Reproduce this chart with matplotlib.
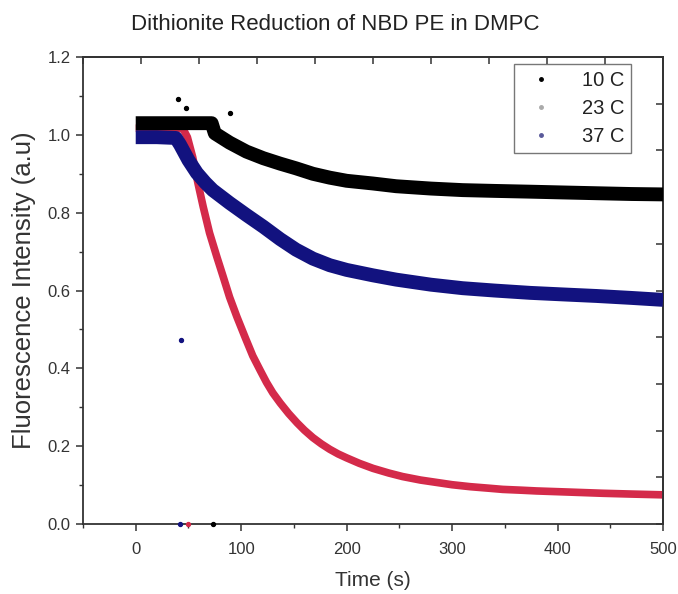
import matplotlib
matplotlib.use("Agg")
import matplotlib.pyplot as plt
from matplotlib.lines import Line2D

plt.rcParams['font.family'] = ['Liberation Sans', 'DejaVu Sans']

# ---- data ----
t_10 = [0, 20, 40, 60, 72, 75, 89, 105, 121, 137, 152, 168, 184, 200, 225, 247,
        280, 310, 340, 374, 405, 437, 470, 500]
v_10 = [1.030, 1.030, 1.030, 1.030, 1.030, 1.004, 0.980, 0.957, 0.940, 0.926, 0.914,
        0.900, 0.890, 0.882, 0.875, 0.868, 0.862, 0.858, 0.856, 0.854, 0.852, 0.850,
        0.848, 0.847]

t_23 = [0, 20, 40, 45, 49, 54, 59, 64, 70, 77, 83, 89, 96, 104, 111, 118, 124, 130,
        137, 145, 153, 160, 168, 176, 184, 192, 200, 212, 225, 240, 253, 270, 285, 300,
        317, 335, 348, 365, 380, 412, 443, 470, 500]
v_23 = [1.017, 1.017, 1.017, 1.015, 0.994, 0.943, 0.876, 0.815, 0.748, 0.686, 0.635,
        0.583, 0.532, 0.478, 0.432, 0.395, 0.364, 0.337, 0.311, 0.284, 0.260, 0.241,
        0.222, 0.206, 0.192, 0.180, 0.170, 0.156, 0.143, 0.131, 0.122, 0.113, 0.107,
        0.101, 0.096, 0.092, 0.089, 0.087, 0.085, 0.082, 0.079, 0.077, 0.075]

t_37 = [0, 20, 38, 42, 50, 58, 66, 73, 89, 105, 121, 137, 152, 168, 184, 200, 225,
        247, 280, 310, 340, 374, 405, 437, 470, 500]
v_37 = [0.994, 0.994, 0.992, 0.975, 0.935, 0.902, 0.877, 0.858, 0.825, 0.794, 0.764,
        0.732, 0.705, 0.682, 0.665, 0.653, 0.639, 0.628, 0.615, 0.606, 0.600, 0.594,
        0.590, 0.586, 0.581, 0.576]

# stray points
out_t_10 = [40, 48, 89, 73]
out_v_10 = [1.092, 1.069, 1.056, 0.0]
out_t_23 = [50]
out_v_23 = [0.0]
out_t_37 = [43, 42]
out_v_37 = [0.473, 0.0]

labels = ['10 C', '23 C', '37 C']
title = 'Dithionite Reduction of NBD PE in DMPC'

c_black = '#000000'
c_red = '#d42a4a'
c_blue = '#12127f'

fig = plt.figure(figsize=(6.78, 5.94), dpi=100)
ax = fig.add_axes([0.1224, 0.1178, 0.9779 - 0.1224, 0.904 - 0.1178])

ax.plot(t_23, v_23, color=c_red, lw=5.5, solid_capstyle='butt', solid_joinstyle='round', zorder=2)
ax.plot(t_37, v_37, color=c_blue, lw=10, solid_capstyle='butt', solid_joinstyle='round', zorder=3)
ax.plot(t_10, v_10, color=c_black, lw=10, solid_capstyle='butt', solid_joinstyle='round', zorder=4)

ax.scatter(out_t_10, out_v_10, s=8, color=c_black, zorder=5, clip_on=False)
ax.scatter(out_t_23, out_v_23, s=8, color=c_red, zorder=5, clip_on=False)
ax.scatter(out_t_37, out_v_37, s=8, color=c_blue, zorder=5, clip_on=False)

ax.set_xlim(-50, 500)
ax.set_ylim(0, 1.2)
ax.set_xticks([0, 100, 200, 300, 400, 500])
ax.set_xticks([-50, 50, 150, 250, 350, 450], minor=True)
ax.set_yticks([0.0, 0.2, 0.4, 0.6, 0.8, 1.0, 1.2])
ax.set_yticklabels(['0.0', '0.2', '0.4', '0.6', '0.8', '1.0', '1.2'])
ax.set_yticks([0.1, 0.3, 0.5, 0.7, 0.9, 1.1], minor=True)
ax.tick_params(which='major', direction='out', length=5, width=1.1, colors='#333333',
               labelsize=12, labelcolor='#333333', top=False, right=False)
ax.tick_params(which='minor', direction='out', length=3, width=1.0, colors='#333333',
               top=False, right=False)
ax.tick_params(axis='x', pad=8)
ax.tick_params(axis='y', pad=4)

for s in ax.spines.values():
    s.set_color('#333333')
    s.set_linewidth(1.3)

sx = ax.secondary_xaxis('top')
sx.set_xticks([-50 + 55 * k for k in range(11)])
sx.set_xticklabels([])
sx.tick_params(direction='in', length=5, width=1.1, colors='#333333')
sx.spines['top'].set_color('#333333')
sx.spines['top'].set_linewidth(1.3)

sy = ax.secondary_yaxis('right')
sy.set_yticks([0.12 * k for k in range(11)])
sy.set_yticklabels([])
sy.tick_params(direction='in', length=5, width=1.1, colors='#333333')
sy.spines['right'].set_color('#333333')
sy.spines['right'].set_linewidth(1.3)

ax.set_xlabel('Time (s)', fontsize=15, color='#333333', labelpad=10)
ax.set_ylabel('Fluorescence Intensity (a.u)', fontsize=18.5, color='#333333', labelpad=8)
fig.text(0.494, 0.958, title, ha='center', va='center', fontsize=16, color='#222222')

handles = [Line2D([], [], ls='none', marker='o', ms=2.5, color=c_black),
           Line2D([], [], ls='none', marker='o', ms=2.5, color='#aaaaaa'),
           Line2D([], [], ls='none', marker='o', ms=2.5, color='#5a5a9a')]
leg = ax.legend(handles, labels, loc='upper right', bbox_to_anchor=(0.945, 0.985),
                fontsize=14.5, frameon=True, fancybox=False, borderpad=0.35,
                handlelength=2.0, handletextpad=1.0, labelspacing=0.45,
                borderaxespad=0)
leg.get_frame().set_edgecolor('#555555')
leg.get_frame().set_linewidth(1.0)
for t in leg.get_texts():
    t.set_color('#222222')

fig.savefig('out.png', dpi=100)
